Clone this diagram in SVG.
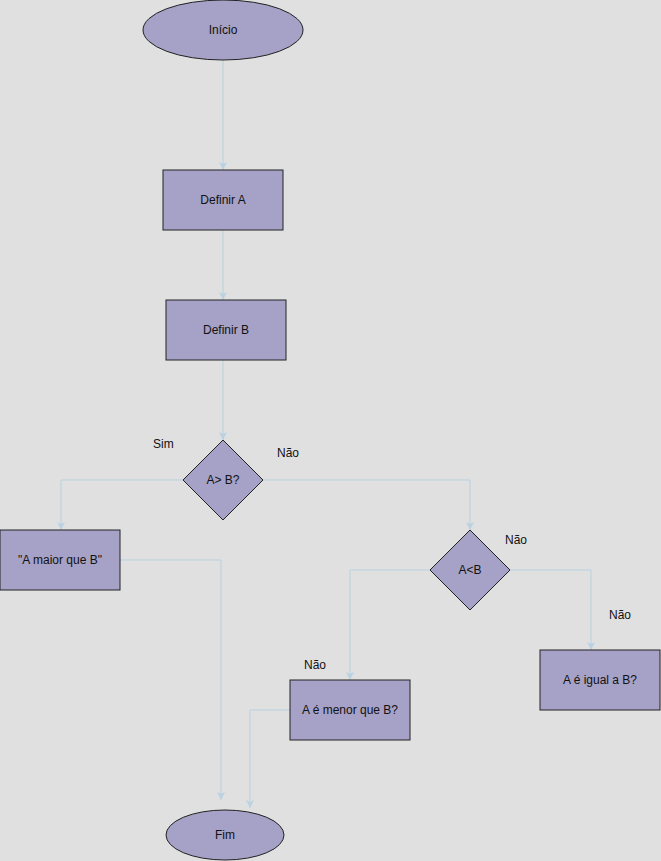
<svg xmlns="http://www.w3.org/2000/svg" width="661" height="861" viewBox="0 0 661 861">
<style>
.n{fill:#a6a1c6;stroke:#222;stroke-width:1}
.t{font-family:"Liberation Sans",Arial,sans-serif;font-size:12px;fill:#111;text-anchor:middle;dominant-baseline:central}
.l{font-family:"Liberation Sans",Arial,sans-serif;font-size:12px;fill:#111}
.c{fill:none;stroke:#b9d1e1;stroke-width:1}
</style>
<defs>
<marker id="a" markerWidth="10" markerHeight="10" refX="8" refY="4" orient="auto" markerUnits="userSpaceOnUse">
<path d="M0,0 L8,4 L0,8 L2,4 Z" fill="#b9d1e1"/>
</marker>
</defs>
<rect width="661" height="861" fill="#e0e0e0"/>
<g id="connectors">
<path class="c" d="M223,60 V170" marker-end="url(#a)"/>
<path class="c" d="M223,230 V300" marker-end="url(#a)"/>
<path class="c" d="M223,360 V440" marker-end="url(#a)"/>
<path class="c" d="M183,480 H61 V530" marker-end="url(#a)"/>
<path class="c" d="M263,480 H470 V530" marker-end="url(#a)"/>
<path class="c" d="M120,560 H221 V800" marker-end="url(#a)"/>
<path class="c" d="M430,570 H350 V680" marker-end="url(#a)"/>
<path class="c" d="M510,570 H591 V650" marker-end="url(#a)"/>
<path class="c" d="M290,710 H250 V808" marker-end="url(#a)"/>
</g>
<g id="inicio"><ellipse class="n" cx="223" cy="30" rx="80" ry="30"/><text class="t" x="223" y="30">Início</text></g>
<g id="definirA"><rect class="n" x="163" y="170" width="120" height="60"/><text class="t" x="223" y="200">Definir A</text></g>
<g id="definirB"><rect class="n" x="166" y="300" width="120" height="60"/><text class="t" x="226" y="330">Definir B</text></g>
<g id="dec1"><path class="n" d="M223,440 L263,480 L223,520 L183,480 Z"/><text class="t" x="223" y="480">A&gt; B?</text></g>
<g id="maior"><rect class="n" x="0" y="530" width="120" height="60"/><text class="t" x="60" y="560">"A maior que B"</text></g>
<g id="dec2"><path class="n" d="M470,530 L510,570 L470,610 L430,570 Z"/><text class="t" x="470" y="570">A&lt;B</text></g>
<g id="menor"><rect class="n" x="290" y="680" width="120" height="60"/><text class="t" x="350" y="710">A é menor que B?</text></g>
<g id="igual"><rect class="n" x="540" y="650" width="120" height="60"/><text class="t" x="600" y="680">A é igual a B?</text></g>
<g id="fim"><ellipse class="n" cx="225" cy="835" rx="59" ry="25"/><text class="t" x="225" y="835">Fim</text></g>
<g id="labels">
<text class="l" x="153" y="448">Sim</text>
<text class="l" x="277" y="457">Não</text>
<text class="l" x="505" y="544">Não</text>
<text class="l" x="609" y="619">Não</text>
<text class="l" x="304" y="669">Não</text>
</g>
</svg>
